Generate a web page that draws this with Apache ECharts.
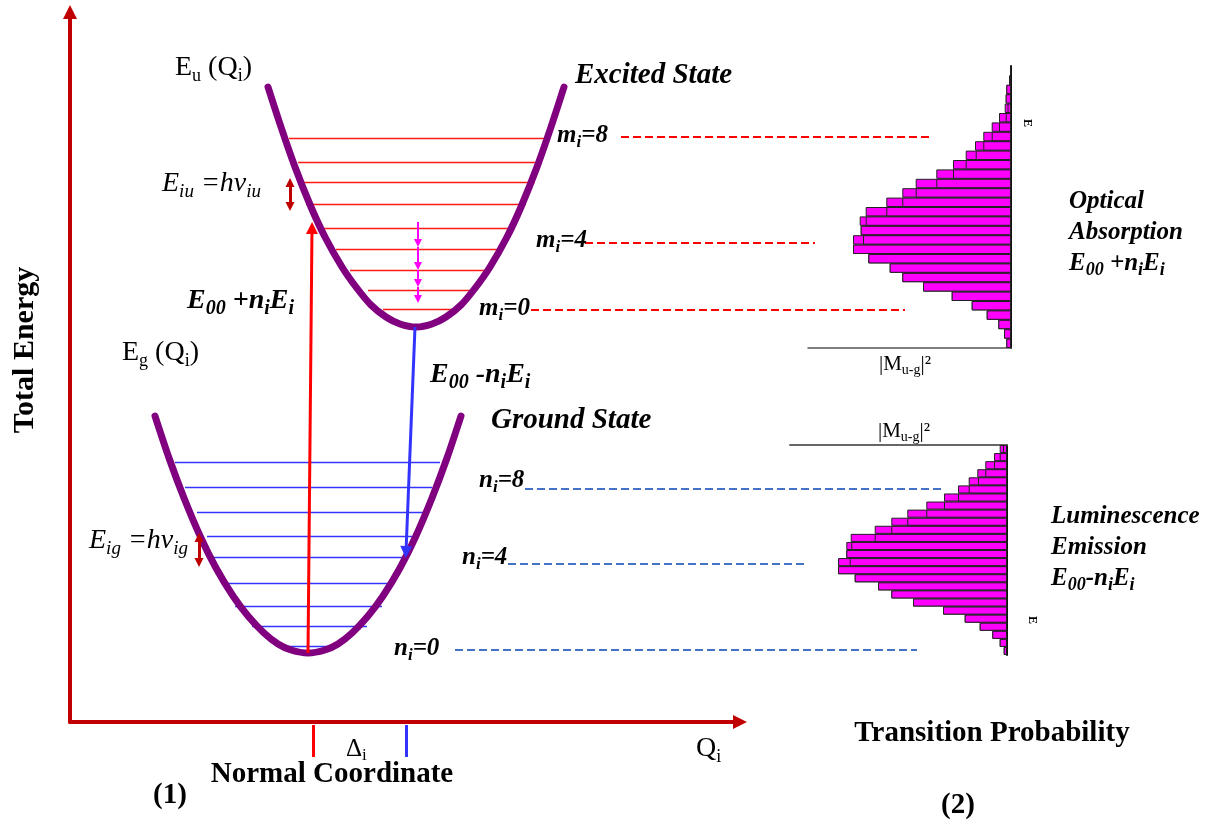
<!DOCTYPE html>
<html>
<head>
<meta charset="utf-8">
<title>Configuration coordinate diagram</title>
<script src="https://cdn.jsdelivr.net/npm/echarts@6/dist/echarts.min.js"></script>
<style>
  html, body { margin: 0; padding: 0; background: #fff; }
  #chart { width: 1219px; height: 827px; }
</style>
</head>
<body>
<div id="chart"></div>
<script>
// (1) plot units: x = normal coordinate Q, y = total energy, origin at the axes corner
var excitedCurve = [[198, 635], [211, 595], [225, 555], [241, 515], [255, 485], [272, 455], [286, 435], [301, 417], [316, 405], [330, 398], [346, 395],
  [362, 398], [376, 405], [391, 417], [406, 435], [420, 455], [437, 485], [451, 515], [467, 555], [481, 595], [494, 635]];
var groundCurve = [[85, 306], [99, 264], [114, 224], [131, 184], [146, 154], [163, 126], [178, 106], [194, 89], [208, 78], [221, 72], [238, 69],
  [255, 72], [268, 78], [282, 89], [298, 106], [313, 126], [330, 154], [345, 184], [362, 224], [377, 264], [391, 306]];

// vibrational levels m = 0..8 (excited) and n = 0..8 (ground)
var excitedLevelE = [413, 432, 452, 473, 494, 518, 540, 560, 584];
var excitedLevelFrom = [313, 298, 280, 266, 252, 236, 233, 228, 219];
var excitedLevelTo = [385, 400, 418, 432, 445, 456, 465, 469, 477];
var groundLevelE = [76, 96, 116, 139, 165, 186, 210, 235, 260];
var groundLevelFrom = [213, 182, 165, 152, 143, 137, 127, 115, 105];
var groundLevelTo = [263, 297, 312, 320, 337, 342, 357, 362, 370];

// dashed links m/n = 0, 4, 8 over to the spectra
var absorptionLinkE = [412.5, 479, 585.5];
var absorptionLinkFrom = [461, 515, 551];
var absorptionLinkTo = [835, 745, 863];
var emissionLinkE = [72.5, 158, 233.5];
var emissionLinkFrom = [385, 438, 455];
var emissionLinkTo = [847, 735, 872];

// transitions
var absorptionArrow = [[238, 69], [242, 494]];
var emissionArrow = [[345, 395], [336, 170]];
var relaxQ = 348;
var relaxFrom = [500, 475, 452, 435];
var relaxTo = [479, 456, 439, 423];
var quantumQ = [220, 129];
var quantumFrom = [539.5, 184.5];
var quantumTo = [515.5, 159.5];
var offsetQ = [243, 336];

// (2) spectra: bar lengths per energy row
var absorptionBack = [4.7, 7, 12.7, 24.3, 39.3, 59.3, 88, 108.7, 121.3, 142.7, 158, 158, 150.3, 151.3, 145.3,
  124.7, 108.7, 95.3, 74.7, 58, 45.3, 36, 27.7, 19.3, 12, 6.3, 5.3, 4.7, 2, 1];
var absorptionFront = [4.7, 7, 12.7, 24.3, 39.3, 59.3, 88, 108.7, 121.3, 142.7, 158, 148, 150.3, 145.3, 124.7,
  108.7, 95.3, 74.7, 58, 45.3, 35.3, 27.7, 19.3, 12, 5.3, 3.5, 5.3, 4.7, 2, 1];
var emissionBack = [7.3, 13, 21.7, 29.7, 38.3, 49, 63, 80.7, 99.7, 115.7, 132.3, 156.3, 160.7,
  160.7, 169, 169, 152.3, 129, 115.7, 94, 64, 42.3, 27.3, 14.7, 7.3, 3.3];
var emissionFront = [4, 7.3, 13, 21.7, 29, 38.3, 49, 63, 80.7, 99.7, 115.7, 132.3, 155.7,
  160.7, 157.3, 169, 152.3, 129, 115.7, 94, 64, 42.3, 27.3, 14.7, 7.3, 3.3];
var absorptionRows = absorptionBack.map(function (v, i) { return 'a' + i; });
var emissionRows = emissionBack.map(function (v, i) { return 'e' + i; });

var SERIF = '"Liberation Serif", "Times New Roman", serif';
function font(size, weight, style) {
  return style + ' ' + weight + ' ' + size + 'px ' + SERIF;
}
function richSet(size, weight, style, subRatio) {
  var sub = Math.round(size * (subRatio || 0.66));
  return {
    t: { font: font(size, weight, style), fontFamily: SERIF, fontSize: size, fontWeight: weight, fontStyle: style,
      lineHeight: Math.round(size * 1.25), fill: '#000', color: '#000' },
    s: { font: font(sub, weight, style), fontFamily: SERIF, fontSize: sub, fontWeight: weight, fontStyle: style,
      verticalAlign: 'bottom', fill: '#000', color: '#000' }
  };
}
function label(x, y, text, rich, align, rot) {
  return {
    type: 'text', x: x, y: y, rotation: rot || 0, z: 100,
    style: { text: text, rich: rich, fill: '#000', align: align || 'left', verticalAlign: 'middle',
      textAlign: align || 'left', textVerticalAlign: 'middle' }
  };
}
function levelSegs(es, from, to) {
  return es.map(function (e, i) { return { coords: [[from[i], e], [to[i], e]] }; });
}
function vertSegs(qs, from, to) {
  return from.map(function (f, i) {
    var q = Array.isArray(qs) ? qs[i] : qs;
    return { coords: [[q, f], [q, to[i]]] };
  });
}

var RB = richSet(28, 'bold', 'italic', 0.72);
var RS = richSet(29, 'bold', 'italic');
var RL = richSet(25, 'bold', 'italic');
var RR = richSet(25, 'bold', 'italic', 0.72);
var RI = richSet(28, 'normal', 'italic', 0.68);
var RN = richSet(28, 'normal', 'normal');
var RD = richSet(25, 'normal', 'normal');
var RT = richSet(29, 'bold', 'normal');
var RV = richSet(30, 'bold', 'normal');
var RM = richSet(21, 'normal', 'normal');
var RE = richSet(12, 'bold', 'normal');

var hidden = { axisTick: { show: false }, axisLabel: { show: false }, splitLine: { show: false } };
var chart = echarts.init(document.getElementById('chart'));

var option = {
  animation: false,
  backgroundColor: '#fff',
  grid: [
    { left: 70, top: 12, width: 670, height: 710 },
    { left: 808, top: 66, width: 203, height: 282 },
    { left: 790, top: 445, width: 217, height: 210 }
  ],
  xAxis: [
    Object.assign({ gridIndex: 0, type: 'value', min: 0, max: 670,
      axisLine: { show: true, symbol: ['none', 'triangle'], symbolSize: [14, 14], lineStyle: { color: '#c00000', width: 4 } } }, hidden),
    Object.assign({ gridIndex: 1, type: 'value', min: 0, max: 203, inverse: true,
      axisLine: { show: true, lineStyle: { color: '#555', width: 1.5 } } }, hidden),
    Object.assign({ gridIndex: 2, type: 'value', min: 0, max: 217, inverse: true, position: 'top',
      axisLine: { show: true, lineStyle: { color: '#666', width: 2 } } }, hidden)
  ],
  yAxis: [
    Object.assign({ gridIndex: 0, type: 'value', min: 0, max: 710,
      axisLine: { show: true, symbol: ['none', 'triangle'], symbolSize: [14, 14], lineStyle: { color: '#c00000', width: 4 } } }, hidden),
    Object.assign({ gridIndex: 1, type: 'category', data: absorptionRows, position: 'right',
      axisLine: { show: true, lineStyle: { color: '#111', width: 2 } } }, hidden),
    Object.assign({ gridIndex: 2, type: 'category', data: emissionRows, inverse: true, position: 'right',
      axisLine: { show: true, lineStyle: { color: '#111', width: 2 } } }, hidden)
  ],
  series: [
    { type: 'lines', coordinateSystem: 'cartesian2d', clip: false, silent: true, z: 2,
      lineStyle: { color: '#ff1a1a', width: 1.4, opacity: 1 }, data: levelSegs(excitedLevelE, excitedLevelFrom, excitedLevelTo) },
    { type: 'lines', coordinateSystem: 'cartesian2d', clip: false, silent: true, z: 2,
      lineStyle: { color: '#3535ff', width: 1.4, opacity: 1 }, data: levelSegs(groundLevelE, groundLevelFrom, groundLevelTo) },
    { type: 'lines', coordinateSystem: 'cartesian2d', clip: false, silent: true, z: 2,
      lineStyle: { color: '#ff0000', width: 2, type: [8, 4], opacity: 1 }, data: levelSegs(absorptionLinkE, absorptionLinkFrom, absorptionLinkTo) },
    { type: 'lines', coordinateSystem: 'cartesian2d', clip: false, silent: true, z: 2,
      lineStyle: { color: '#4472c4', width: 2, type: [8, 4], opacity: 1 }, data: levelSegs(emissionLinkE, emissionLinkFrom, emissionLinkTo) },
    { type: 'line', data: excitedCurve, smooth: 0.3, showSymbol: false, silent: true, z: 4,
      lineStyle: { color: '#800080', width: 7, cap: 'round', join: 'round' } },
    { type: 'line', data: groundCurve, smooth: 0.3, showSymbol: false, silent: true, z: 4,
      lineStyle: { color: '#800080', width: 7, cap: 'round', join: 'round' } },
    { type: 'lines', coordinateSystem: 'cartesian2d', clip: false, silent: true, z: 5,
      symbol: ['none', 'triangle'], symbolSize: 12,
      lineStyle: { color: '#ff0000', width: 3, opacity: 1 }, data: [{ coords: absorptionArrow }] },
    { type: 'lines', coordinateSystem: 'cartesian2d', clip: false, silent: true, z: 5,
      symbol: ['none', 'triangle'], symbolSize: 12,
      lineStyle: { color: '#3333ff', width: 3, opacity: 1 }, data: [{ coords: emissionArrow }] },
    { type: 'lines', coordinateSystem: 'cartesian2d', clip: false, silent: true, z: 5,
      symbol: ['none', 'triangle'], symbolSize: 8,
      lineStyle: { color: '#ff00ff', width: 2, opacity: 1 }, data: vertSegs(relaxQ, relaxFrom, relaxTo) },
    { type: 'lines', coordinateSystem: 'cartesian2d', clip: false, silent: true, z: 5,
      symbol: ['triangle', 'triangle'], symbolSize: 9,
      lineStyle: { color: '#c00000', width: 3, opacity: 1 }, data: vertSegs(quantumQ, quantumFrom, quantumTo) },
    { type: 'lines', coordinateSystem: 'cartesian2d', clip: false, silent: true, z: 5,
      lineStyle: { width: 3, opacity: 1 },
      data: [
        { coords: [[offsetQ[0], -3], [offsetQ[0], -35]], lineStyle: { color: '#ff0000' } },
        { coords: [[offsetQ[1], -3], [offsetQ[1], -35]], lineStyle: { color: '#3333ff' } }
      ] },
    { type: 'bar', xAxisIndex: 1, yAxisIndex: 1, data: absorptionBack, barGap: '-100%', barCategoryGap: '0%', silent: true,
      itemStyle: { color: '#ff00ff', borderColor: '#222', borderWidth: 1 } },
    { type: 'bar', xAxisIndex: 1, yAxisIndex: 1, data: absorptionFront, barGap: '-100%', barCategoryGap: '0%', silent: true,
      itemStyle: { color: '#ff00ff', borderColor: '#222', borderWidth: 1 } },
    { type: 'bar', xAxisIndex: 2, yAxisIndex: 2, data: emissionBack, barGap: '-100%', barCategoryGap: '0%', silent: true,
      itemStyle: { color: '#ff00ff', borderColor: '#222', borderWidth: 1 } },
    { type: 'bar', xAxisIndex: 2, yAxisIndex: 2, data: emissionFront, barGap: '-100%', barCategoryGap: '0%', silent: true,
      itemStyle: { color: '#ff00ff', borderColor: '#222', borderWidth: 1 } }
  ],
  graphic: [
    label(175, 68, '{t|E}{s|u}{t| (Q}{s|i}{t|)}', RN),
    label(575, 76, '{t|Excited State}', RS),
    label(557, 136, '{t|m}{s|i}{t|=8}', RL),
    label(536, 241, '{t|m}{s|i}{t|=4}', RL),
    label(479, 309, '{t|m}{s|i}{t|=0}', RL),
    label(162, 184, '{t|E}{s|iu}{t| =hv}{s|iu}', RI),
    label(187, 301, '{t|E}{s|00}{t| +n}{s|i}{t|E}{s|i}', RB),
    label(122, 353, '{t|E}{s|g}{t| (Q}{s|i}{t|)}', RN),
    label(430, 375, '{t|E}{s|00}{t| -n}{s|i}{t|E}{s|i}', RB),
    label(491, 421, '{t|Ground State}', RS),
    label(479, 481, '{t|n}{s|i}{t|=8}', RL),
    label(462, 558, '{t|n}{s|i}{t|=4}', RL),
    label(394, 649, '{t|n}{s|i}{t|=0}', RL),
    label(89, 541, '{t|E}{s|ig}{t| =hv}{s|ig}', RI),
    label(696, 749, '{t|Q}{s|i}', RN),
    label(346, 749, '{t|Δ}{s|i}', RD),
    label(332, 775, '{t|Normal Coordinate}', RT, 'center'),
    label(170, 796, '{t|(1)}', RT, 'center'),
    label(992, 734, '{t|Transition Probability}', RT, 'center'),
    label(958, 806, '{t|(2)}', RT, 'center'),
    label(25, 350, '{t|Total Energy}', RV, 'center', Math.PI / 2),
    label(1069, 233, '{t|Optical}\n{t|Absorption}\n{t|E}{s|00}{t| +n}{s|i}{t|E}{s|i}', RR),
    label(1051, 548, '{t|Luminescence}\n{t|Emission}\n{t|E}{s|00}{t|-n}{s|i}{t|E}{s|i}', RR),
    label(905, 364, '{t||M}{s|u-g}{t||²}', RM, 'center'),
    label(904, 431, '{t||M}{s|u-g}{t||²}', RM, 'center'),
    label(1027, 123, '{t|E}', RE, 'center', -Math.PI / 2),
    label(1032, 620, '{t|E}', RE, 'center', -Math.PI / 2)
  ]
};
chart.setOption(option);
</script>
</body>
</html>
